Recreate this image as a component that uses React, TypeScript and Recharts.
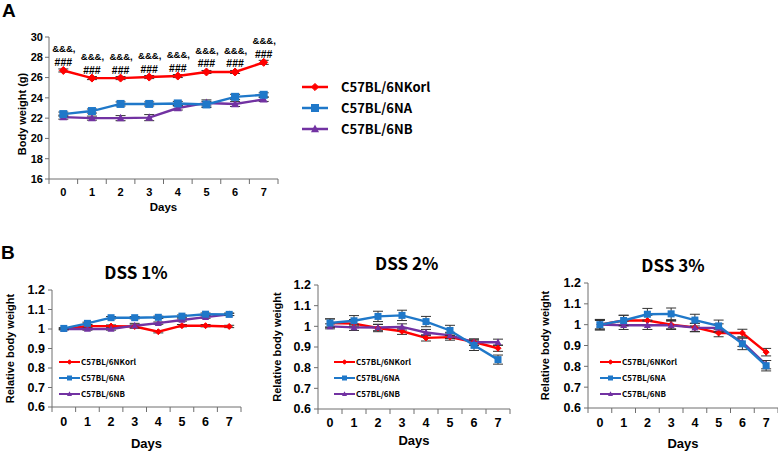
import React from 'react';
import { LineChart, Line, XAxis, YAxis, ErrorBar, LabelList } from 'recharts';

// ---------- data ----------
const days = [0, 1, 2, 3, 4, 5, 6, 7];
const seriesNames = ['C57BL/6NKorl', 'C57BL/6NA', 'C57BL/6NB'];
const panelTitles = ['DSS 1%', 'DSS 2%', 'DSS 3%'];
const sigTop = '&&&,';
const sigBottom = '###';

// Panel A: body weight (g)
const aKorl = [26.7, 25.95, 25.95, 26.05, 26.15, 26.55, 26.55, 27.5];
const aKorlErr = [0.15, 0.15, 0.15, 0.15, 0.15, 0.15, 0.15, 0.2];
const aNA = [22.4, 22.7, 23.4, 23.4, 23.45, 23.35, 24.1, 24.3];
const aNAErr = [0.2, 0.2, 0.2, 0.2, 0.2, 0.3, 0.25, 0.2];
const aNB = [22.1, 22.0, 22.0, 22.05, 23.0, 23.5, 23.4, 23.85];
const aNBErr = [0.2, 0.2, 0.25, 0.3, 0.2, 0.3, 0.25, 0.2];
const aYTicks = [16, 18, 20, 22, 24, 26, 28, 30];

// Panel B: relative body weight
const d1Korl = [1.0, 1.015, 1.015, 1.013, 0.986, 1.017, 1.017, 1.013];
const d1KorlErr = [0.004, 0.006, 0.006, 0.008, 0.006, 0.006, 0.006, 0.006];
const d1NA = [1.003, 1.029, 1.058, 1.058, 1.06, 1.066, 1.076, 1.075];
const d1NAErr = [0.004, 0.006, 0.006, 0.006, 0.006, 0.006, 0.006, 0.006];
const d1NB = [1.0, 1.0, 1.0, 1.017, 1.03, 1.046, 1.061, 1.075];
const d1NBErr = [0.004, 0.006, 0.006, 0.012, 0.006, 0.006, 0.006, 0.006];

const d2Korl = [1.016, 1.013, 0.992, 0.976, 0.944, 0.948, 0.924, 0.894];
const d2KorlErr = [0.02, 0.02, 0.018, 0.015, 0.015, 0.015, 0.015, 0.015];
const d2NA = [1.016, 1.027, 1.048, 1.053, 1.023, 0.98, 0.908, 0.839];
const d2NAErr = [0.02, 0.025, 0.025, 0.025, 0.025, 0.025, 0.025, 0.022];
const d2NB = [1.0, 0.995, 0.994, 0.997, 0.97, 0.956, 0.923, 0.923];
const d2NBErr = [0.012, 0.015, 0.015, 0.015, 0.015, 0.015, 0.015, 0.015];

const d3Korl = [1.0, 1.02, 1.02, 1.0, 0.987, 0.96, 0.96, 0.868];
const d3KorlErr = [0.025, 0.025, 0.025, 0.02, 0.02, 0.018, 0.018, 0.018];
const d3NA = [1.0, 1.02, 1.05, 1.052, 1.022, 0.994, 0.908, 0.803];
const d3NAErr = [0.025, 0.025, 0.028, 0.028, 0.028, 0.028, 0.028, 0.025];
const d3NB = [1.0, 0.997, 0.997, 0.997, 0.986, 0.984, 0.916, 0.808];
const d3NBErr = [0.02, 0.02, 0.02, 0.02, 0.02, 0.02, 0.02, 0.02];
const bYTicks = [0.6, 0.7, 0.8, 0.9, 1, 1.1, 1.2];

// ---------- styles ----------
const RED = '#ff0000';
const BLUE = '#1f78c9';
const PURPLE = '#7232a2';
const AXIS = '#6e6e6e';
const FONT = '"Liberation Sans", Arial, sans-serif';
const KFONT = '"Noto Sans CJK KR", "Noto Sans", sans-serif';
const colors = [RED, BLUE, PURPLE];

const build = (k: number[], ke: number[], a: number[], ae: number[], b: number[], be: number[]) =>
  days.map((d, i) => ({ day: d, korl: k[i], korlErr: ke[i], na: a[i], naErr: ae[i], nb: b[i], nbErr: be[i] }));

const dataA = build(aKorl, aKorlErr, aNA, aNAErr, aNB, aNBErr);
const dataB = [
  build(d1Korl, d1KorlErr, d1NA, d1NAErr, d1NB, d1NBErr),
  build(d2Korl, d2KorlErr, d2NA, d2NAErr, d2NB, d2NBErr),
  build(d3Korl, d3KorlErr, d3NA, d3NAErr, d3NB, d3NBErr),
];

const dayTicks = [...days.map((d) => d - 0.5), days[days.length - 1] + 0.5, ...days].sort((p, q) => p - q);

// ---------- markers ----------
const diamond = (cx: number, cy: number, r: number, fill: string) => (
  <polygon points={`${cx},${cy - r} ${cx + r},${cy} ${cx},${cy + r} ${cx - r},${cy}`} fill={fill} stroke={fill} strokeWidth={1} />
);
const square = (cx: number, cy: number, s: number, fill: string) => (
  <rect x={cx - s / 2} y={cy - s / 2} width={s} height={s} fill={fill} />
);
const triangle = (cx: number, cy: number, s: number, fill: string) => (
  <polygon points={`${cx},${cy - s * 0.55} ${cx + s / 2},${cy + s * 0.4} ${cx - s / 2},${cy + s * 0.4}`} fill={fill} />
);
const markerFns = [diamond, square, triangle];

const makeDot = (kind: number, size: number) => (p: any) => (
  <g key={`d${kind}-${p.index}`}>{markerFns[kind](p.cx, p.cy, size, colors[kind])}</g>
);

const makeDayTick = (gap: number, fs: number) => (props: any) => {
  const { x, y, payload } = props;
  const v = payload.value;
  if (!Number.isInteger(v)) {
    return <line x1={x} x2={x} y1={y} y2={y + 5} stroke={AXIS} strokeWidth={1} />;
  }
  return (
    <text x={x} y={y + gap} textAnchor="middle" dominantBaseline="central" fontFamily={FONT} fontWeight={700} fontSize={fs} fill="#000">
      {v}
    </text>
  );
};

const makeYLabel = (text: string, cx: number, fs: number, shift = 0) => (props: any) => {
  const vb = props.viewBox || { x: 0, y: 0, height: 0 };
  const x = vb.x + cx;
  const y = vb.y + vb.height / 2 + shift;
  return (
    <text x={x} y={y} transform={`rotate(-90 ${x} ${y})`} textAnchor="middle" dominantBaseline="central" fontFamily={FONT} fontWeight={700} fontSize={fs} fill="#000">
      {text}
    </text>
  );
};

const makeXLabel = (text: string, dy: number, fs: number) => (props: any) => {
  const vb = props.viewBox || { x: 0, y: 0, width: 0 };
  return (
    <text x={vb.x + vb.width / 2} y={vb.y + dy} textAnchor="middle" dominantBaseline="central" fontFamily={FONT} fontWeight={700} fontSize={fs} fill="#000">
      {text}
    </text>
  );
};

const renderSig = (p: any) => {
  const x = Number(p.x);
  const y = Number(p.y);
  return (
    <g>
      <text x={x + 0.5} y={y - 21.5} textAnchor="middle" dominantBaseline="central" fontFamily={FONT} fontWeight={700} fontSize={9.5} fill="#000">
        {sigTop}
      </text>
      <text x={x} y={y - 8.5} textAnchor="middle" dominantBaseline="central" fontFamily={FONT} fontWeight={700} fontSize={10.5} fill="#000">
        {sigBottom}
      </text>
    </g>
  );
};

// ---------- legend ----------
function SeriesLegend(props: { left: number; rows: number[]; lineW: number; gap: number; fs: number; ms: number; sw: number }) {
  const { left, rows, lineW, gap, fs, ms, sw } = props;
  return (
    <>
      {seriesNames.map((name, i) => (
        <div key={name} style={{ position: 'absolute', left, top: rows[i] - 8, height: 16, display: 'flex', alignItems: 'center', whiteSpace: 'nowrap' }}>
          <svg width={lineW} height={16} style={{ display: 'block' }}>
            <line x1={0} x2={lineW} y1={8} y2={8} stroke={colors[i]} strokeWidth={sw} />
            {markerFns[i](lineW / 2, 8, i === 0 ? ms * 0.45 : ms, colors[i])}
          </svg>
          <span style={{ marginLeft: gap, fontFamily: KFONT, fontWeight: 700, fontSize: fs, color: '#000', lineHeight: '16px' }}>{name}</span>
        </div>
      ))}
    </>
  );
}

// ---------- B panel ----------
type BCfg = { left: number; top: number; width: number; height: number; yw: number; right: number; xh: number; tickGap: number; daysDy: number; ylx: number };
const bCfgs: BCfg[] = [
  { left: 0, top: 250, width: 255, height: 201, yw: 52, right: 14, xh: 44, tickGap: 14.5, daysDy: 36, ylx: 10 },
  { left: 258, top: 245, width: 257, height: 206, yw: 60, right: 5, xh: 42, tickGap: 14.3, daysDy: 31, ylx: 18.7 },
  { left: 520, top: 243, width: 258, height: 208, yw: 68, right: 0, xh: 43, tickGap: 15, daysDy: 35, ylx: 25 },
];
const bTitlePos = [
  { x: 136, y: 272 },
  { x: 406.7, y: 263.3 },
  { x: 673, y: 265 },
];
const bLegendPos = [
  { left: 59, rows: [362, 377.5, 393.5] },
  { left: 334, rows: [361.5, 377.5, 394] },
  { left: 600, rows: [362, 377.5, 394] },
];

function BChart({ idx }: { idx: number }) {
  const c = bCfgs[idx];
  const data = dataB[idx];
  return (
    <div style={{ position: 'absolute', left: c.left, top: c.top }}>
      <LineChart width={c.width} height={c.height} data={data} margin={{ top: 40, right: c.right, left: 0, bottom: 0 }}>
        <XAxis
          dataKey="day"
          type="number"
          domain={[-0.5, 7.5]}
          ticks={dayTicks}
          interval={0}
          height={c.xh}
          tickLine={false}
          tickSize={0}
          tickMargin={0}
          axisLine={{ stroke: AXIS, strokeWidth: 1 }}
          tick={makeDayTick(c.tickGap, 12.5)}
          label={makeXLabel('Days', c.daysDy, 13)}
        />
        <YAxis
          type="number"
          domain={[0.6, 1.2]}
          ticks={bYTicks}
          interval={0}
          width={c.yw}
          tickSize={4}
          tickMargin={3}
          tickLine={{ stroke: AXIS }}
          axisLine={{ stroke: AXIS, strokeWidth: 1 }}
          tick={{ fontFamily: FONT, fontWeight: 700, fontSize: 12.5, fill: '#000' }}
          label={makeYLabel('Relative body weight', c.ylx, 11)}
        />
        <Line dataKey="korl" stroke={RED} strokeWidth={2.4} dot={makeDot(0, 3)} activeDot={false} isAnimationActive={false}>
          <ErrorBar dataKey="korlErr" width={5} stroke="#333" strokeWidth={1} direction="y" />
        </Line>
        <Line dataKey="nb" stroke={PURPLE} strokeWidth={2.4} dot={makeDot(2, 7)} activeDot={false} isAnimationActive={false}>
          <ErrorBar dataKey="nbErr" width={5} stroke="#333" strokeWidth={1} direction="y" />
        </Line>
        <Line dataKey="na" stroke={BLUE} strokeWidth={2.4} dot={makeDot(1, 7)} activeDot={false} isAnimationActive={false}>
          <ErrorBar dataKey="naErr" width={5} stroke="#333" strokeWidth={1} direction="y" />
        </Line>
      </LineChart>
    </div>
  );
}

export default function App() {
  return (
    <div style={{ position: 'absolute', left: 0, top: 0, width: 778, height: 451, background: '#fff', overflow: 'hidden' }}>
      <div style={{ position: 'absolute', left: 2, top: 1, fontFamily: FONT, fontWeight: 700, fontSize: 19, lineHeight: '19px' }}>A</div>
      <div style={{ position: 'absolute', left: 1, top: 243, fontFamily: FONT, fontWeight: 700, fontSize: 19, lineHeight: '19px' }}>B</div>

      <div style={{ position: 'absolute', left: 0, top: 0 }}>
        <LineChart width={300} height={215} data={dataA} margin={{ top: 37, right: 22, left: 0, bottom: 0 }}>
          <XAxis
            dataKey="day"
            type="number"
            domain={[-0.5, 7.5]}
            ticks={dayTicks}
            interval={0}
            height={36}
            tickLine={false}
            tickSize={0}
            tickMargin={0}
            axisLine={{ stroke: AXIS, strokeWidth: 1 }}
            tick={makeDayTick(13, 11)}
            label={makeXLabel('Days', 28, 11.5)}
          />
          <YAxis
            type="number"
            domain={[16, 30]}
            ticks={aYTicks}
            interval={0}
            width={49}
            tickSize={4}
            tickMargin={2}
            tickLine={{ stroke: AXIS }}
            axisLine={{ stroke: AXIS, strokeWidth: 1 }}
            tick={{ fontFamily: FONT, fontWeight: 700, fontSize: 11, fill: '#000' }}
            label={makeYLabel('Body weight (g)', 22, 11, 6)}
          />
          <Line dataKey="nb" stroke={PURPLE} strokeWidth={2.4} dot={makeDot(2, 8)} activeDot={false} isAnimationActive={false}>
            <ErrorBar dataKey="nbErr" width={5} stroke="#333" strokeWidth={1} direction="y" />
          </Line>
          <Line dataKey="na" stroke={BLUE} strokeWidth={2.4} dot={makeDot(1, 8)} activeDot={false} isAnimationActive={false}>
            <ErrorBar dataKey="naErr" width={5} stroke="#333" strokeWidth={1} direction="y" />
          </Line>
          <Line dataKey="korl" stroke={RED} strokeWidth={2.4} dot={makeDot(0, 4)} activeDot={false} isAnimationActive={false}>
            <ErrorBar dataKey="korlErr" width={5} stroke="#333" strokeWidth={1} direction="y" />
            <LabelList dataKey="korl" content={renderSig} />
          </Line>
        </LineChart>
      </div>
      <SeriesLegend left={302} rows={[87, 108, 129]} lineW={26} gap={13} fs={13} ms={8} sw={2.5} />

      {[0, 1, 2].map((i) => (
        <React.Fragment key={i}>
          <BChart idx={i} />
          <div
            style={{
              position: 'absolute',
              left: bTitlePos[i].x - 60,
              top: bTitlePos[i].y - 12,
              width: 120,
              height: 24,
              lineHeight: '24px',
              textAlign: 'center',
              fontFamily: KFONT,
              fontWeight: 700,
              fontSize: 17,
              color: '#000',
            }}
          >
            {panelTitles[i]}
          </div>
          <SeriesLegend left={bLegendPos[i].left} rows={bLegendPos[i].rows} lineW={21} gap={1} fs={8} ms={5} sw={2} />
        </React.Fragment>
      ))}
    </div>
  );
}
